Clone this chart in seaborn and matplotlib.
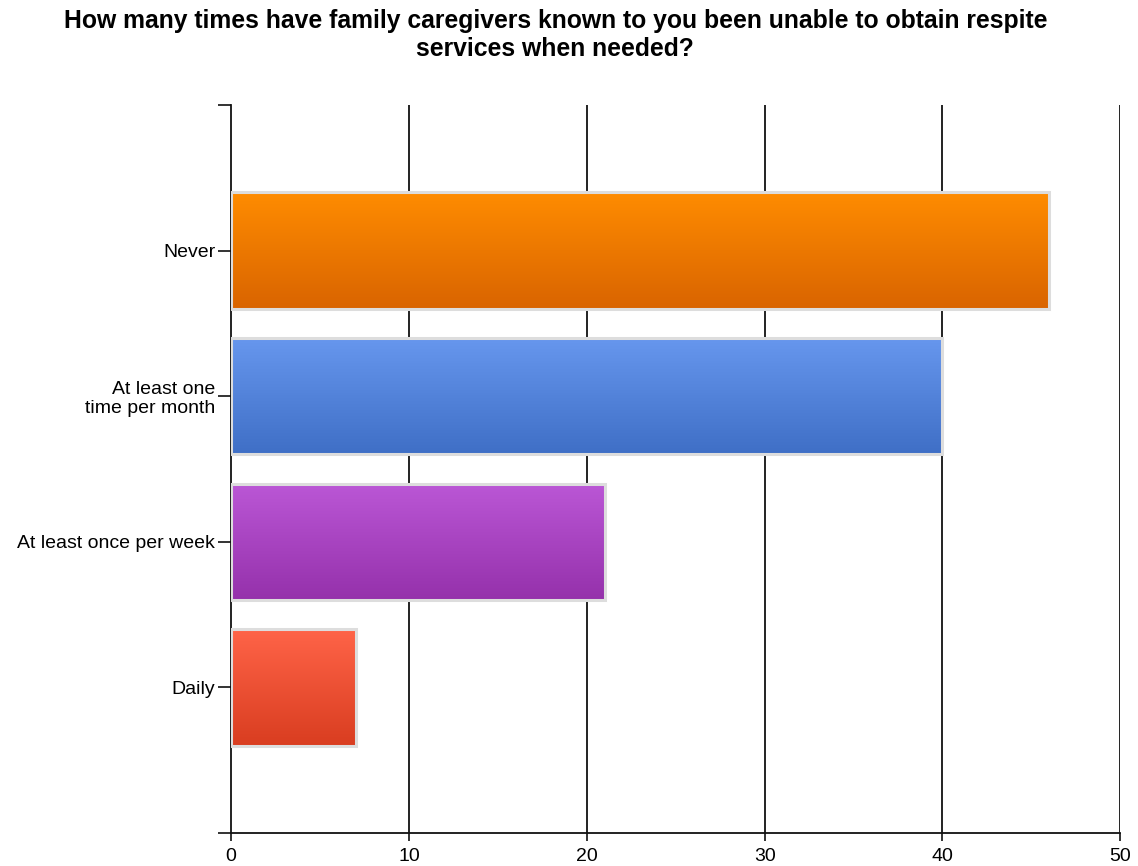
import numpy as np
import pandas as pd
import matplotlib
matplotlib.use("Agg")
import matplotlib.pyplot as plt
import seaborn as sns
from matplotlib.colors import LinearSegmentedColormap

categories = ["Never", "At least one\ntime per month", "At least once per week", "Daily"]
counts = [46, 40, 21, 7]
top_colors = ["#FF8C00", "#6797EE", "#BB57D6", "#FF6448"]
bottom_colors = ["#D96400", "#3F6FC6", "#9531AB", "#D93D20"]
x_ticks = [0, 10, 20, 30, 40, 50]
title = "How many times have family caregivers known to you been unable to obtain respite\nservices when needed?"

sns.set_style("white")
plt.rcParams["font.family"] = ["Liberation Sans", "DejaVu Sans"]

df = pd.DataFrame({"category": categories, "count": counts})

fig = plt.figure(figsize=(11.38, 8.66), dpi=100)
ax = fig.add_axes([0.203, 0.0381, 0.7815, 0.8407])

sns.barplot(data=df, y="category", x="count", orient="h", ax=ax,
            width=0.8, color="#DDDDDD", saturation=1)

ax.set_xlim(0, 50)
ax.set_ylim(4, -1)

# vertical gradient fill inside each bar
for patch, c_top, c_bot in zip(ax.patches, top_colors, bottom_colors):
    x0, y0 = patch.get_x(), patch.get_y()
    w, h = patch.get_width(), patch.get_height()
    cmap = LinearSegmentedColormap.from_list("g", [c_top, c_bot])
    grad = np.linspace(0, 1, 256).reshape(-1, 1)
    im = ax.imshow(grad, cmap=cmap, aspect="auto", interpolation="bicubic",
                   extent=(x0, x0 + w, y0 + h, y0), origin="upper", zorder=2)
    im.set_clip_path(patch)
    patch.set_facecolor("none")
    patch.set_edgecolor("#DDDDDD")
    patch.set_linewidth(2.2)
    patch.set_zorder(3)

ax.set_xlim(0, 50)
ax.set_ylim(4, -1)

# black vertical grid lines at each x tick
for xv in x_ticks[1:]:
    ax.axvline(xv, color="#111111", linewidth=1.3, zorder=1)

ax.set_xticks(x_ticks)
ax.set_xticklabels([str(v) for v in x_ticks], fontsize=14, color="black")
ax.set_yticks([-1, 0, 1, 2, 3, 4])
ax.set_yticklabels([""] + categories + [""], fontsize=14, color="black",
                   linespacing=1.15)
ax.tick_params(axis="y", length=9.4, width=1.2, color="#111111",
               direction="out", left=True, pad=2)
ax.tick_params(axis="x", length=6, width=1.2, color="#111111",
               direction="out", bottom=True, pad=5)

for side in ["top", "right"]:
    ax.spines[side].set_visible(False)
for side in ["left", "bottom"]:
    ax.spines[side].set_color("#111111")
    ax.spines[side].set_linewidth(1.3)

ax.set_xlabel("")
ax.set_ylabel("")

fig.text(0.488, 0.990, title, ha="center", va="top", fontsize=17.8,
         fontweight="bold", color="black", linespacing=1.22)

fig.savefig("out.png", dpi=100)
